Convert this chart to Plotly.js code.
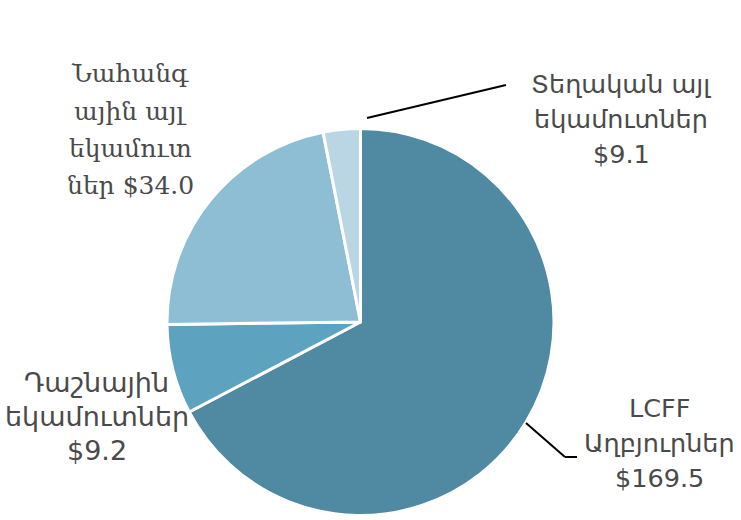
<!DOCTYPE html>
<html>
<head>
<meta charset="utf-8">
<script src="https://cdn.plot.ly/plotly-3.0.1.min.js"></script>
<style>html,body{margin:0;padding:0;background:#fff;}#chart{width:741px;height:520px;}</style>
</head>
<body>
<div id="chart"></div>
<script>
// Categories (in drawing order, clockwise from 12 o'clock)
const categories = ["LCFF Աղբյուրներ", "Դաշնային եկամուտներ", "Նահանգային այլ եկամուտներ", "Տեղական այլ եկամուտներ"];
// Slice sizes as drawn in the picture (share of the circle, %)
const sliceShares = [67.3, 7.5, 22.1, 3.1];
// Amounts printed in the labels
const labelAmounts = ["$169.5", "$9.2", "$34.0", "$9.1"];
const sliceColors = ["#508AA2", "#5DA3C0", "#8DBED4", "#BAD6E4"];

// Label lines per slice
const labelLines = [
  ["LCFF", "Աղբյուրներ", labelAmounts[0]],
  ["Դաշնային", "եկամուտներ", labelAmounts[1]],
  ["Նահանգ", "ային այլ", "եկամուտ", "ներ " + labelAmounts[2]],
  ["Տեղական այլ", "եկամուտներ", labelAmounts[3]]
];
// label placement (pixels): center x, first line y, line step, font size
const labelPos = [
  {x: 659, y: 408, dy: 35, size: 25.5},
  {x: 97,  y: 382, dy: 34, size: 27},
  {x: 130, y: 74,  dy: 37, size: 25},
  {x: 621, y: 84,  dy: 35, size: 25.5}
];
const W = 741, H = 520;
const annotations = [];
labelLines.forEach((lines, i) => {
  const p = labelPos[i];
  const serif = (i === 2);
  lines.forEach((t, j) => {
    annotations.push({
      xref: "paper", yref: "paper",
      x: p.x / W, y: 1 - (p.y + j * p.dy) / H,
      xanchor: "center", yanchor: "middle",
      text: t, showarrow: false,
      font: {family: serif ? "DejaVu Serif, serif" : "DejaVu Sans, sans-serif", size: p.size, color: "#4a4a4a"}
    });
  });
});

const px = (x) => x / W, py = (y) => 1 - y / H;
const shapes = [
  {type: "line", xref: "paper", yref: "paper", x0: px(367), y0: py(118), x1: px(506), y1: py(85), line: {color: "#000", width: 2}},
  {type: "line", xref: "paper", yref: "paper", x0: px(526), y0: py(423), x1: px(565), y1: py(457), line: {color: "#000", width: 2}},
  {type: "line", xref: "paper", yref: "paper", x0: px(565), y0: py(457), x1: px(577), y1: py(457), line: {color: "#000", width: 2}}
];

const trace = {
  type: "pie",
  labels: categories,
  values: sliceShares,
  sort: false,
  direction: "clockwise",
  rotation: 0,
  textinfo: "none",
  hoverinfo: "none",
  marker: {colors: sliceColors, line: {color: "#ffffff", width: 3}},
  domain: {x: [167 / W, 554 / W], y: [1 - 515.5 / H, 1 - 128.5 / H]},
  showlegend: false
};

Plotly.newPlot("chart", [trace], {
  width: W, height: H,
  margin: {l: 0, r: 0, t: 0, b: 0},
  paper_bgcolor: "#ffffff",
  showlegend: false,
  annotations: annotations,
  shapes: shapes
}, {staticPlot: true});
</script>
</body>
</html>
